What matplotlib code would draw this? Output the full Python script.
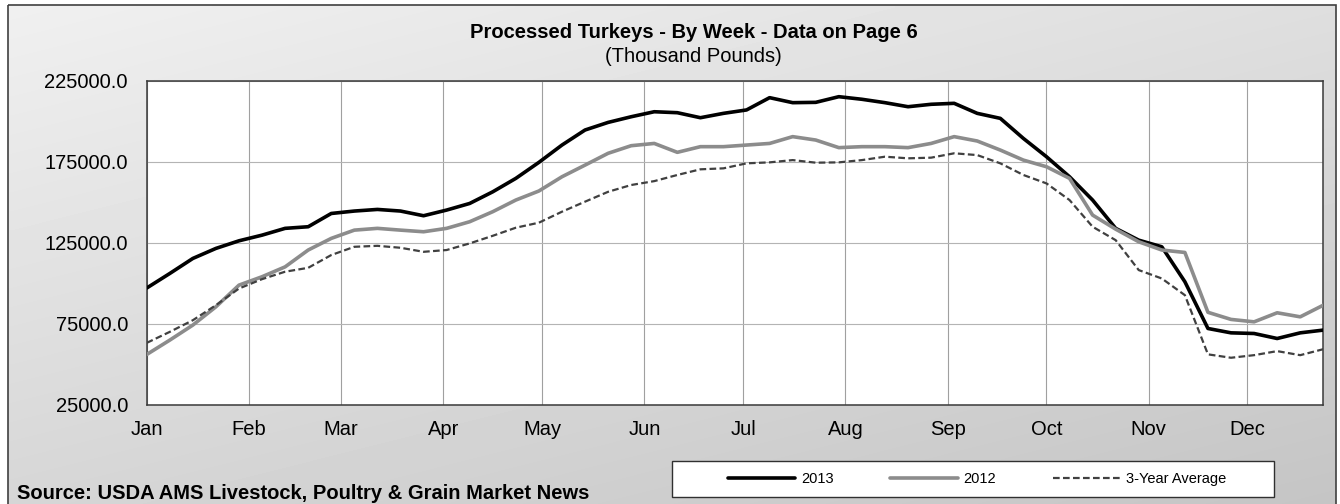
import numpy as np
import pandas as pd
import matplotlib
matplotlib.use("Agg")
import matplotlib.pyplot as plt
from matplotlib.patches import Rectangle
from matplotlib.ticker import FormatStrFormatter

plt.rcParams['font.family'] = ['Liberation Sans', 'DejaVu Sans']

# ---------------- data ----------------
weeks = pd.date_range('2013-01-01', periods=52, freq='7D')
months = pd.date_range('2013-01-01', '2013-12-01', freq='MS')
month_labels = ['Jan', 'Feb', 'Mar', 'Apr', 'May', 'Jun',
                'Jul', 'Aug', 'Sep', 'Oct', 'Nov', 'Dec']
y_ticks = [25000, 75000, 125000, 175000, 225000]

y2013 = [97000, 106000, 115300, 121500, 126200, 129700, 133900, 134900, 143100, 144600,
         145600, 144600, 141700, 145200, 149300, 156500, 164800, 174700, 185400, 194700,
         199400, 202900, 206000, 205400, 202300, 205000, 207100, 214700, 211600, 211800,
         215300, 213700, 211600, 209100, 210600, 211200, 205000, 201900, 189500, 178200,
         165800, 151400, 133900, 126600, 122500, 100900, 72000, 69300, 68900, 65800,
         69300, 71000]

y2012 = [55900, 64800, 74100, 85400, 98800, 104000, 110100, 120500, 127700, 132800,
         133900, 132800, 131800, 133900, 138000, 144200, 151400, 157000, 165800, 173000,
         180300, 185000, 186400, 180900, 184400, 184400, 185400, 186400, 190600, 188500,
         183800, 184400, 184400, 183800, 186400, 190600, 187900, 182300, 176100, 172000,
         164800, 142100, 133400, 125600, 120500, 119000, 82000, 77600, 76100, 81700,
         79200, 86400]

avg3 = [63100, 69900, 77100, 86400, 96700, 102500, 107100, 109500, 117400, 122500,
        123100, 121900, 119400, 120500, 124600, 129300, 134300, 137400, 144200, 150400,
        156500, 160700, 163100, 166900, 170400, 171000, 174100, 174700, 176100, 174500,
        174700, 176100, 178200, 177200, 177600, 180300, 179200, 174100, 166900, 161700,
        151400, 134900, 126600, 108100, 102900, 92600, 56000, 53900, 55500, 58000,
        55500, 59200]

series_names = ['2013', '2012', '3-Year Average']
title = 'Processed Turkeys - By Week - Data on Page 6'
subtitle = '(Thousand Pounds)'
source = 'Source: USDA AMS Livestock, Poultry & Grain Market News'

# ---------------- figure ----------------
W, H = 1340, 504
fig = plt.figure(figsize=(W / 100, H / 100), dpi=100)
fig.patch.set_facecolor('white')

# background gradient panel
bg = fig.add_axes([0, 0, 1, 1], zorder=-10)
bg.set_xlim(0, W)
bg.set_ylim(H, 0)
bg.axis('off')
gx = np.linspace(0, 1, 200)
gy = np.linspace(0, 1, 100)
GX, GY = np.meshgrid(gx, gy)
shade = 0.94 - 0.17 * (0.4 * GX + 0.6 * GY)
bg.imshow(shade, cmap='gray', vmin=0, vmax=1, extent=(8, 1336, 510, 5),
          aspect='auto', interpolation='bilinear', zorder=0)
bg.add_patch(Rectangle((8, 5), 1328, 510, fill=False, ec='#404040', lw=1.2, zorder=2))
# legend box
bg.add_patch(Rectangle((672, 461), 602, 36, fc='white', ec='#303030', lw=1.0, zorder=3))

# main plot
ax = fig.add_axes([146.7 / W, 99.5 / H, (1323.3 - 146.7) / W, (404.5 - 81) / H])
ax.set_facecolor('white')

l1, = ax.plot(weeks, y2013, color='black', lw=2.6, solid_joinstyle='round',
              solid_capstyle='round', label=series_names[0], zorder=3)
l2, = ax.plot(weeks, y2012, color='#8c8c8c', lw=2.6, solid_joinstyle='round',
              solid_capstyle='round', label=series_names[1], zorder=4)
l3, = ax.plot(weeks, avg3, color='#404040', lw=1.6, dashes=(3, 1.5),
              label=series_names[2], zorder=5)

ax.set_xlim(weeks[0], weeks[-1])
ax.set_ylim(y_ticks[0], y_ticks[-1])
ax.set_yticks(y_ticks)
ax.yaxis.set_major_formatter(FormatStrFormatter('%.1f'))
ax.set_xticks(months)
ax.set_xticklabels(month_labels)

ax.grid(True, axis='x', color='#a0a0a0', lw=0.8)
ax.grid(True, axis='y', color='#b4b4b4', lw=0.8)
ax.set_axisbelow(True)
ax.tick_params(axis='both', length=0, labelsize=14.5, colors='black')
ax.tick_params(axis='y', pad=13.5)
ax.tick_params(axis='x', pad=11)
for s in ax.spines.values():
    s.set_color('#3a3a3a')
    s.set_linewidth(1.1)

# texts
fig.text(693.5 / W, 1 - 32 / H, title, ha='center', va='center',
         fontsize=14.5, fontweight='bold')
fig.text(693.5 / W, 1 - 56 / H, subtitle, ha='center', va='center', fontsize=14.5)
fig.text(17 / W, 1 - 499 / H, source, ha='left', va='baseline',
         fontsize=14.5, fontweight='bold')

leg = fig.legend(handles=[l1, l2, l3], loc='center', bbox_to_anchor=(977 / W, 1 - 479 / H),
                 ncol=3, frameon=False, fontsize=10.5, handlelength=4.6,
                 handletextpad=0.4, columnspacing=3.9)
leg.set_zorder(20)

fig.savefig('out.png', dpi=100)
